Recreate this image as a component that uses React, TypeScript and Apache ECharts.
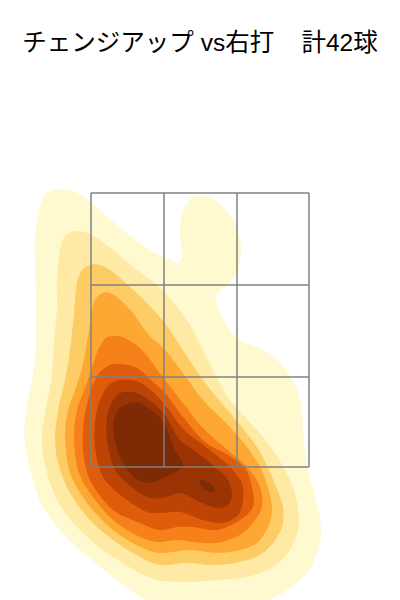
import React, { useEffect, useRef } from "react";
import * as echarts from "echarts";

const titleText = "チェンジアップ vs右打    計42球";
const zoneX = [91, 164, 237, 309];
const zoneY = [193, 285, 377, 467];
const levelColors = ["#FFF9CF", "#FEEAA4", "#FECC64", "#FEA834", "#F68019", "#DF5C0B", "#BD4404", "#9A3404", "#7E2B05"];

const level1 = [[63,189],[77,193],[92,203],[113,222],[133,238],[153,252],[167,258],[177,263],[182,258],[181,247],[180,227],[183,210],[192,198],[200,196],[215,200],[227,212],[237,228],[241,247],[238,270],[228,285],[218,292],[216,300],[222,317],[232,333],[243,342],[260,348],[277,360],[288,373],[298,392],[302,410],[303,430],[308,470],[318,507],[321,530],[318,550],[307,573],[290,588],[267,600],[147,600],[127,587],[100,567],[67,538],[43,507],[32,477],[25,443],[24,430],[28,400],[32,380],[36,350],[36,303],[35,260],[35,237],[42,200],[50,191]];
const level2 = [[77,231],[92,235],[113,250],[133,267],[157,285],[180,310],[193,330],[203,350],[217,378],[230,400],[257,430],[273,450],[290,480],[298,507],[298,530],[288,553],[273,567],[247,577],[217,580],[193,582],[180,582],[157,580],[140,573],[113,557],[87,537],[63,510],[50,483],[43,453],[42,433],[47,403],[52,375],[54,340],[57,310],[57,280],[60,250],[65,236]];
const level3 = [[95,264],[110,270],[130,287],[147,303],[164,322],[183,350],[198,373],[213,393],[230,413],[257,447],[272,477],[283,507],[282,527],[273,543],[260,555],[240,562],[213,565],[187,563],[160,565],[140,557],[113,540],[90,520],[70,493],[58,463],[55,437],[59,405],[65,380],[70,350],[74,313],[77,283],[83,269]];
const level4 = [[106,292],[117,297],[133,313],[147,333],[165,350],[183,373],[203,400],[230,427],[247,447],[263,473],[272,507],[268,527],[257,543],[240,550],[217,553],[190,550],[160,553],[140,547],[113,530],[87,503],[70,473],[65,437],[68,410],[75,390],[82,368],[88,337],[92,310],[96,298]];
const level5 = [[113,336],[123,337],[142,350],[165,380],[183,403],[203,428],[230,452],[247,467],[260,487],[262,507],[253,523],[240,535],[217,543],[193,542],[177,540],[157,542],[140,537],[113,520],[90,493],[78,470],[74,437],[77,410],[85,388],[92,368],[98,350],[106,338]];
const level6 = [[120,364],[137,368],[153,382],[165,393],[183,417],[205,442],[228,455],[245,468],[252,487],[253,507],[240,520],[217,530],[193,527],[177,527],[160,530],[140,523],[113,510],[90,480],[83,450],[84,420],[91,390],[100,372],[110,365]];
const level7 = [[120,380],[137,381],[153,392],[165,405],[184,430],[210,450],[230,467],[242,483],[243,500],[238,515],[223,523],[203,520],[180,512],[160,513],[147,512],[123,497],[103,477],[95,447],[96,415],[103,393],[110,384]];
const level8 = [[120,393],[137,393],[153,403],[165,415],[180,440],[198,453],[215,467],[228,480],[232,495],[228,505],[217,508],[200,502],[180,493],[167,497],[150,498],[133,488],[115,470],[107,440],[107,417],[112,402]];
const level9a = [[130,403],[140,403],[155,413],[165,425],[175,450],[183,466],[163,478],[148,483],[135,478],[123,463],[116,445],[113,425],[118,410]];
const level9b = [[199,479],[205,481],[212,485],[215,491],[211,492],[205,490],[201,485]];

const contours = [
  { color: levelColors[0], points: level1 },
  { color: levelColors[1], points: level2 },
  { color: levelColors[2], points: level3 },
  { color: levelColors[3], points: level4 },
  { color: levelColors[4], points: level5 },
  { color: levelColors[5], points: level6 },
  { color: levelColors[6], points: level7 },
  { color: levelColors[7], points: level8 },
  { color: levelColors[8], points: level9a },
  { color: levelColors[8], points: level9b },
];

export default function App() {
  const ref = useRef<HTMLDivElement>(null);
  useEffect(() => {
    document.body.style.margin = "0";
    const chart = echarts.init(ref.current!, null, { renderer: "svg" });
    chart.setOption({
      animation: false,
      backgroundColor: "#ffffff",
      title: {
        text: titleText,
        left: "center",
        top: 30,
        padding: 0,
        textStyle: { fontFamily: "'Liberation Sans', 'Noto Sans CJK JP', sans-serif", fontSize: 24.5, fontWeight: "normal", color: "#000" },
      },
      grid: { left: 0, right: 0, top: 0, bottom: 0 },
      xAxis: { type: "value", min: 0, max: 400, show: false },
      yAxis: { type: "value", min: 0, max: 600, inverse: true, show: false },
      series: [
        {
          type: "custom",
          coordinateSystem: "cartesian2d",
          clip: true,
          silent: true,
          data: contours.map((_, i) => [i]),
          renderItem: (params: any, api: any) => {
            const c = contours[params.dataIndex];
            return {
              type: "polygon",
              shape: { points: c.points.map((p) => api.coord(p)), smooth: 0.3 },
              style: { fill: c.color, stroke: "none" },
            };
          },
        },
        {
          type: "custom",
          coordinateSystem: "cartesian2d",
          silent: true,
          data: [[0]],
          renderItem: (_: any, api: any) => {
            const x0 = zoneX[0], x1 = zoneX[zoneX.length - 1], y0 = zoneY[0], y1 = zoneY[zoneY.length - 1];
            const segs = [
              ...zoneX.map((x) => [[x, y0], [x, y1]]),
              ...zoneY.map((y) => [[x0, y], [x1, y]]),
            ];
            return {
              type: "group",
              children: segs.map(([a, b]) => {
                const p = api.coord(a), q = api.coord(b);
                return {
                  type: "line",
                  shape: { x1: p[0], y1: p[1], x2: q[0], y2: q[1] },
                  style: { stroke: "#808080", lineWidth: 1.5, fill: "none" },
                };
              }),
            };
          },
        },
      ],
    });
    return () => chart.dispose();
  }, []);
  return <div ref={ref} style={{ width: 400, height: 600 }} />;
}
